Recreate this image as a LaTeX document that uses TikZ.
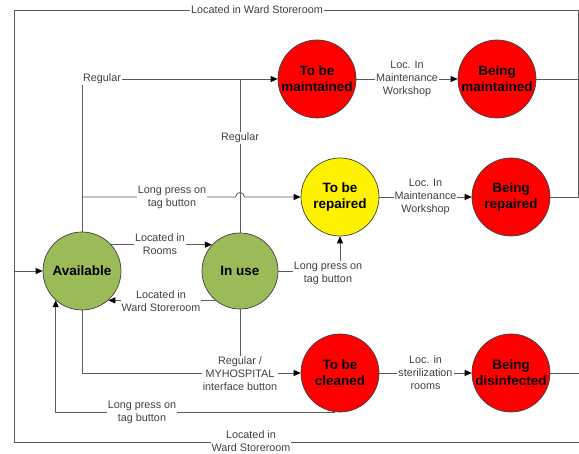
\documentclass[tikz,border=0pt]{standalone}
\usepackage{fontspec}
\setmainfont{Liberation Sans}
\usetikzlibrary{arrows.meta}
\definecolor{avgreen}{HTML}{9BBB59}
\definecolor{linegray}{HTML}{5A5A5A}
\definecolor{txtgray}{HTML}{404040}
\begin{document}
\begin{tikzpicture}[x=1pt,y=-1pt,
  state/.style={circle, draw=black!75, line width=0.7pt, minimum size=78pt, inner sep=0pt, align=center, font=\fontsize{13.5}{16}\selectfont\bfseries},
  conn/.style={draw=linegray, line width=0.8pt},
  arr/.style={conn, -{Triangle[length=7pt,width=6pt,color=black]}},
  lbl/.style={fill=white, inner sep=1pt, align=center, text=txtgray, font=\fontsize{10.8}{13}\selectfont}
]
\useasboundingbox (0,0) rectangle (579,454);
% states
\node[state, fill=avgreen] (av) at (82,271) {Available};
\node[state, fill=avgreen, minimum size=76pt] (iu) at (240,271) {In use};
\node[state, fill=red] (tbm) at (317,79) {To be\\maintained};
\node[state, fill=red] (bm) at (497,79) {Being\\maintained};
\node[state, fill=yellow] (tbr) at (340,197) {To be\\repaired};
\node[state, fill=red] (br) at (511,197) {Being\\repaired};
\node[state, fill=red] (tbc) at (340,373) {To be\\cleaned};
\node[state, fill=red] (bd) at (511,373) {Being\\disinfected};
% frame coordinates
\coordinate (cTL) at (14,10);
\coordinate (cTR) at (578,10);
\coordinate (cBL) at (14,442);
\coordinate (cBR) at (579,442);
\coordinate (cL) at (14,271);
\coordinate (jmp) at (240,197);
% return loops
\draw[conn] (bm.east) -- (cTR |- bm.east);
\draw[conn] (br.east) -| (cTR) -- (cTL) -- (cBL) -- (cBR);
\draw[conn] (bd.east) -- (cBR |- bd.east);
\draw[arr] (cL) -- (av.west);
\node[lbl] (l1) at (257,10) {Located in Ward Storeroom};
\node[lbl] (l2) at (251,441) {Located in\\Ward Storeroom};
% Regular -> to be maintained
\draw[arr] (av.north) |- (tbm.west);
\draw[conn] (iu.north) -- (iu.north |- tbm.west);
\node[lbl] (l3) at (102,79) {Regular};
\node[lbl] (l4) at (240,138) {Regular};
% long press -> to be repaired (with bridge)
\draw[arr] (av.north |- tbr.west) -- ([xshift=-4.5pt]jmp) .. controls ([xshift=-4pt,yshift=6pt]jmp) and ([xshift=4pt,yshift=6pt]jmp) .. ([xshift=4.5pt]jmp) -- (tbr.west);
\node[lbl] (l5) at (172,197) {Long press on\\tag button};
% available <-> in use
\draw[arr] (av.42) -- (iu.137 |- av.42);
\node[lbl] (l6) at (160,244) {Located in\\Rooms};
\draw[arr] (iu.230) -- (av.312 |- iu.230);
\node[lbl] (l7) at (161,301) {Located in\\Ward Storeroom};
% in use -> to be repaired
\draw[arr] (iu.east) -| (tbr.south);
\node[lbl] (l8) at (328,273) {Long press on\\tag button};
% -> to be cleaned
\draw[arr] (av.south) |- (tbc.west);
\draw[conn] (iu.south) -- (iu.south |- tbc.west);
\node[lbl] (l9) at (240,374) {Regular /\\MYHOSPITAL\\interface button};
% to be cleaned -> available
\draw[arr] ([xshift=-5pt]tbc.south) -| (av.228);
\node[lbl] (l10) at (142,412) {Long press on\\tag button};
% to be -> being
\draw[arr] (tbm) -- (bm) node[lbl, midway] (l11) {Loc. In\\Maintenance\\Workshop};
\draw[arr] (tbr) -- (br) node[lbl, midway] (l12) {Loc. In\\Maintenance\\Workshop};
\draw[arr] (tbc) -- (bd) node[lbl, midway] (l13) {Loc. in\\sterilization\\rooms};
\end{tikzpicture}
\end{document}
